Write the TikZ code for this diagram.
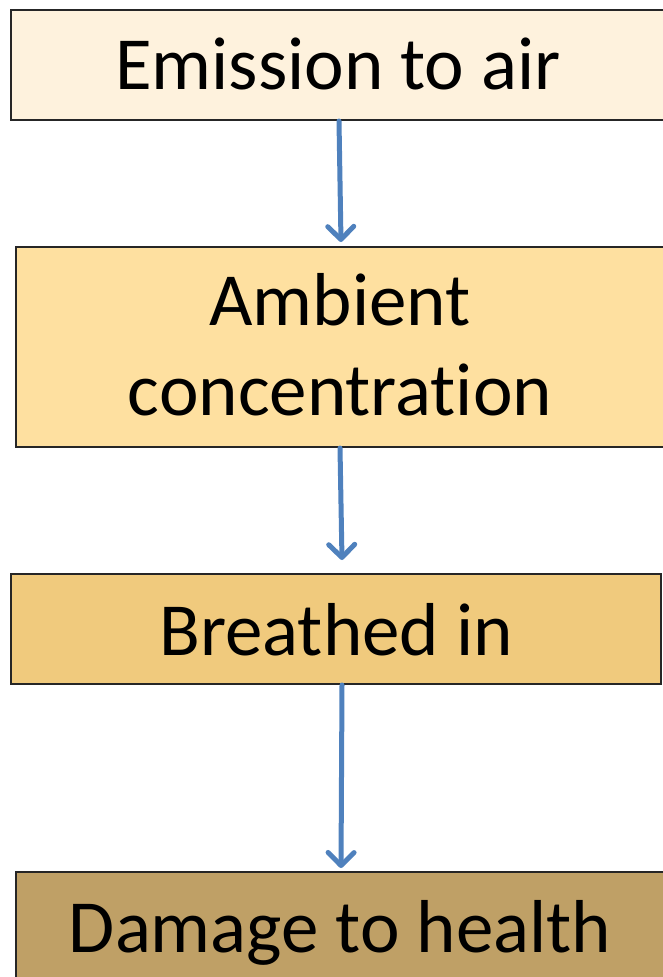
\documentclass[tikz,border=0pt]{standalone}
\usepackage{fontspec}
\setmainfont{Carlito}[Ligatures={NoCommon}]
\usetikzlibrary{arrows.meta}
\definecolor{arrowblue}{HTML}{4F81BD}
\definecolor{boxa}{HTML}{FEF2DD}
\definecolor{boxb}{HTML}{FEE0A0}
\definecolor{boxc}{HTML}{F0CA7D}
\definecolor{boxd}{HTML}{BFA066}
\tikzset{
  flowbox/.style={draw=black!85, line width=2pt, inner sep=0pt, anchor=north west},
  flowtext/.style={font=\fontsize{75}{90}\selectfont, align=center, text=black},
  flowarrow/.style={draw=arrowblue, line width=5pt, line cap=round,
     -{Straight Barb[length=13pt,width=26pt,line cap=round,line join=round]}}
}
\begin{document}
\begin{tikzpicture}[x=1pt,y=-1pt]
\useasboundingbox (0,0) rectangle (663,977);
\clip (0,0) rectangle (663,977);
\node[flowbox, fill=boxa, minimum width=660pt, minimum height=110pt] (b1) at (10,9) {};
\node[flowbox, fill=boxb, minimum width=660pt, minimum height=200pt] (b2) at (15,246) {};
\node[flowbox, fill=boxc, minimum width=650pt, minimum height=110pt] (b3) at (10,573) {};
\node[flowbox, fill=boxd, minimum width=660pt, minimum height=130pt] (b4) at (15,871) {};
\node[flowtext] (t1) at (338,64) {Emission to air};
\node[flowtext] (t2) at (340,345) {Ambient\\concentration};
\node[flowtext] (t3) at (336,630) {Breathed in};
\node[flowtext] (t4) at (340,933) {Damage to health};
\coordinate (a1s) at (339,121);
\coordinate (a1e) at (341,242);
\coordinate (a2s) at (340,448);
\coordinate (a2e) at (342,560);
\coordinate (a3s) at (342,685);
\coordinate (a3e) at (341,868);
\draw[flowarrow] (a1s) -- (a1e);
\draw[flowarrow] (a2s) -- (a2e);
\draw[flowarrow] (a3s) -- (a3e);
\end{tikzpicture}
\end{document}
